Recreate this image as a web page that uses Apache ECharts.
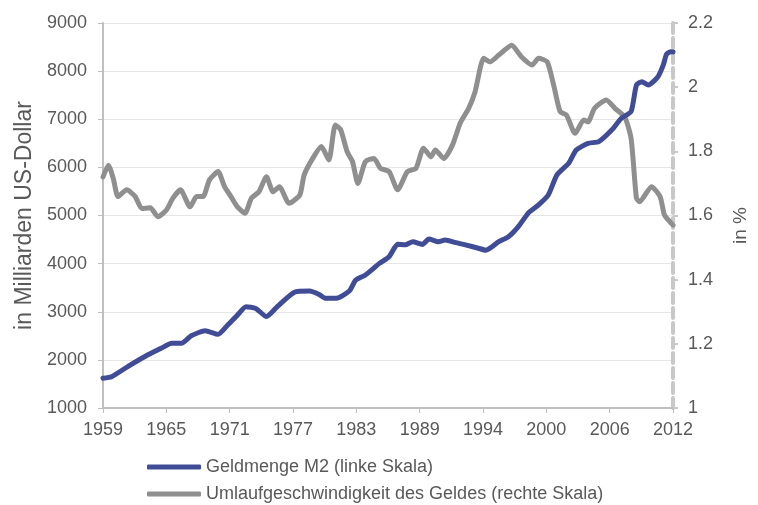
<!DOCTYPE html>
<html>
<head>
    <meta charset="utf-8">
    <title>Geldmenge M2</title>
    <script src="https://cdn.jsdelivr.net/npm/echarts@6/dist/echarts.min.js"></script>
    <style>
        html, body { margin: 0; padding: 0; background: #fff; }
        #chart { width: 758px; height: 505px; }
    </style>
</head>
<body>
    <div id="chart"></div>
    <script type="text/javascript">
    // Geldmenge M2 (linke Skala), Mrd. US-Dollar
    var m2Years = [1959.0, 1959.8, 1961.3, 1962.9, 1964.4, 1965.4, 1966.3, 1967.2, 1968.5, 1969.7,
        1970.6, 1971.5, 1972.3, 1973.2, 1974.2, 1975.2, 1976.8, 1978.2, 1979.1, 1979.7,
        1980.7, 1981.9, 1982.5, 1983.4, 1984.7, 1985.6, 1986.4, 1987.1, 1987.8, 1988.7,
        1989.3, 1990.2, 1990.8, 1991.8, 1992.7, 1993.9, 1994.6, 1995.8, 1996.7, 1997.6,
        1998.6, 1999.5, 2000.4, 2001.2, 2002.3, 2003.0, 2004.1, 2005.1, 2006.3, 2007.2,
        2008.1, 2008.6, 2009.1, 2009.7, 2010.6, 2011.1, 2011.4, 2011.8, 2012.0];
    var m2Values = [1620, 1650, 1860, 2070, 2240, 2345, 2345, 2500, 2605, 2530,
        2725, 2930, 3105, 3070, 2900, 3105, 3405, 3430, 3360, 3280,
        3280, 3430, 3660, 3765, 4005, 4145, 4400, 4390, 4455, 4400,
        4510, 4455, 4490, 4435, 4390, 4320, 4280, 4455, 4560, 4765,
        5065, 5220, 5425, 5840, 6085, 6360, 6500, 6535, 6775, 7020,
        7160, 7710, 7780, 7710, 7885, 8130, 8350, 8405, 8400];

    // Umlaufgeschwindigkeit des Geldes (rechte Skala)
    var velYears = [1959.0, 1959.5, 1959.95, 1960.4, 1961.2, 1962.0, 1962.6, 1963.4, 1964.1, 1964.9,
        1965.5, 1966.2, 1967.1, 1967.7, 1968.3, 1968.9, 1969.7, 1970.3, 1970.9, 1971.5,
        1972.2, 1972.8, 1973.5, 1974.2, 1974.8, 1975.4, 1976.3, 1977.3, 1977.7, 1978.5,
        1979.3, 1980.0, 1980.6, 1981.1, 1981.7, 1982.2, 1982.7, 1983.4, 1984.2, 1984.8,
        1985.6, 1986.4, 1987.3, 1988.1, 1988.8, 1989.5, 1989.9, 1990.7, 1991.5, 1992.2,
        1993.0, 1993.6, 1994.4, 1995.0, 1995.8, 1997.0, 1997.9, 1998.9, 1999.5, 2000.3,
        2000.9, 2001.5, 2002.1, 2002.9, 2003.7, 2004.1, 2004.7, 2005.8, 2006.6, 2007.5,
        2008.1, 2008.6, 2008.9, 2010.0, 2010.8, 2011.2, 2011.7, 2012.0];
    var velValues = [1.72, 1.757, 1.716, 1.659, 1.680, 1.659, 1.622, 1.624, 1.596, 1.617,
        1.654, 1.680, 1.627, 1.659, 1.659, 1.711, 1.737, 1.690, 1.659, 1.627,
        1.607, 1.654, 1.674, 1.721, 1.674, 1.690, 1.638, 1.664, 1.726, 1.778,
        1.815, 1.773, 1.882, 1.867, 1.799, 1.768, 1.700, 1.768, 1.778, 1.747,
        1.737, 1.680, 1.737, 1.747, 1.810, 1.783, 1.804, 1.778, 1.820, 1.887,
        1.934, 1.986, 2.090, 2.079, 2.100, 2.131, 2.095, 2.069, 2.090, 2.079,
        2.007, 1.924, 1.913, 1.856, 1.898, 1.892, 1.934, 1.960, 1.934, 1.908,
        1.841, 1.654, 1.643, 1.690, 1.659, 1.602, 1.581, 1.57];

    var xLabels = ['1959', '1965', '1971', '1977', '1983', '1989', '1994', '2000', '2006', '2012'];
    var seriesNames = ['Geldmenge M2 (linke Skala)', 'Umlaufgeschwindigkeit des Geldes (rechte Skala)'];

    var xMin = 1959, xMax = 2012;
    var xStep = (xMax - xMin) / (xLabels.length - 1);
    var xTicks = xLabels.map(function (l, i) { return xMin + i * xStep; });

    function pairs(xs, ys) {
        return xs.map(function (x, i) { return [x, ys[i]]; });
    }

    var txt = '#595959';
    var font = 'Liberation Sans, Arial, sans-serif';

    var chart = echarts.init(document.getElementById('chart'));
    var option = {
        backgroundColor: '#fff',
        animation: false,
        textStyle: { fontFamily: font },
        grid: { left: 103, right: 83, top: 23, bottom: 97 },
        legend: {
            orient: 'vertical',
            left: 147,
            top: 458,
            padding: 0,
            itemGap: 9,
            itemWidth: 54,
            itemHeight: 5,
            icon: 'roundRect',
            textStyle: { color: txt, fontSize: 18, fontFamily: font },
            data: seriesNames
        },
        xAxis: {
            type: 'value',
            min: xMin,
            max: xMax,
            splitLine: { show: false },
            axisLine: { lineStyle: { color: '#bfbfbf', width: 2 } },
            axisTick: { show: true, customValues: xTicks, length: 5, lineStyle: { color: '#bfbfbf', width: 1 } },
            axisLabel: {
                customValues: xTicks,
                color: txt, fontSize: 18, margin: 13,
                formatter: function (v) { return xLabels[Math.round((v - xMin) / xStep)]; }
            }
        },
        yAxis: [{
            type: 'value',
            min: 1000, max: 9000, interval: 1000,
            name: 'in Milliarden US-Dollar',
            nameLocation: 'middle',
            nameRotate: 90,
            nameGap: 62,
            nameTextStyle: { color: txt, fontSize: 23 },
            axisLine: { show: true, lineStyle: { color: '#bfbfbf', width: 2 } },
            axisTick: { show: true, length: 5, lineStyle: { color: '#bfbfbf' } },
            axisLabel: { color: txt, fontSize: 18, margin: 16, formatter: function (v) { return String(v); } },
            splitLine: { show: true, lineStyle: { color: '#e6e6e6', width: 1 } }
        }, {
            type: 'value',
            min: 1, max: 2.2, interval: 0.2,
            position: 'right',
            name: 'in %',
            nameLocation: 'middle',
            nameRotate: 90,
            nameGap: 58,
            nameTextStyle: { color: txt, fontSize: 19, padding: [0, 20, 0, 0] },
            axisLine: { show: true, lineStyle: { color: '#c8c8c8', width: 4, type: [10, 5] } },
            axisTick: { show: true, length: 5, lineStyle: { color: '#c8c8c8', width: 2 } },
            axisLabel: { color: txt, fontSize: 18, margin: 15 },
            splitLine: { show: false }
        }],
        series: [{
            name: seriesNames[0],
            type: 'line',
            yAxisIndex: 0,
            data: pairs(m2Years, m2Values),
            showSymbol: false,
            smooth: 0.2,
            lineStyle: { color: '#414c97', width: 5, cap: 'round', join: 'round' },
            itemStyle: { color: '#414c97' },
            z: 3
        }, {
            name: seriesNames[1],
            type: 'line',
            yAxisIndex: 1,
            data: pairs(velYears, velValues),
            showSymbol: false,
            smooth: 0.2,
            lineStyle: { color: '#8f8f8f', width: 5, cap: 'round', join: 'round' },
            itemStyle: { color: '#8f8f8f' },
            z: 2
        }]
    };
    chart.setOption(option);
    </script>
</body>
</html>
